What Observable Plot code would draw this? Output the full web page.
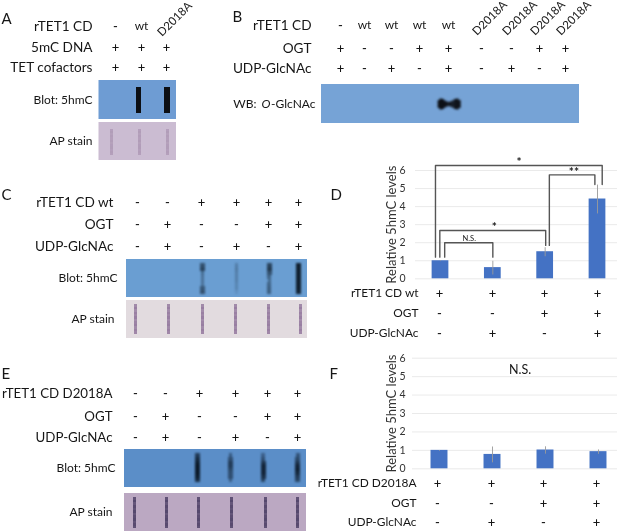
<!DOCTYPE html>
<html><head><meta charset="utf-8">
<script src="https://cdn.jsdelivr.net/npm/d3@7"></script>
<script src="https://cdn.jsdelivr.net/npm/@observablehq/plot@0.6"></script>
<style>
html,body{margin:0;padding:0;background:#fff}
#fig{position:relative;width:617px;height:531px;overflow:hidden;background:#fff}
#fig svg{position:absolute;filter:blur(0.3px)}
</style></head><body><div id="fig"></div>
<script>
// ---------- DATA ----------
const rowsA = ["rTET1 CD", "5mC DNA", "TET cofactors"];
const valsA = [["-", "wt", "D2018A"], ["+", "+", "+"], ["+", "+", "+"]];
const slotsA = [0.885, 2.03];
const signalA = [[1, 1, 1, 1, 1, 1, 1, 1], [1, 1, 1, 1, 1, 1, 1, 1]];
const apSlotsA = [-0.24, 0.92, 2.08];
const apTexture = [.88, 1, .85, .97, .9, 1, .86, .95, 1, .88, .97, .9];

const rowsB = ["rTET1 CD", "OGT", "UDP-GlcNAc"];
const valsB = [
  ["-", "wt", "wt", "wt", "wt", "D2018A", "D2018A", "D2018A", "D2018A"],
  ["+", "-", "-", "+", "+", "-", "-", "+", "+"],
  ["+", "-", "+", "-", "+", "-", "+", "-", "+"]
];
const bandOffsetB = [-0.33, -0.27, -0.2, -0.12, -0.04, 0.04, 0.12, 0.2, 0.27, 0.33];
const bandThickB = [0.1, 0.14, 0.13, 0.09, 0.06, 0.06, 0.09, 0.13, 0.14, 0.1];

const rowsC = ["rTET1 CD wt", "OGT", "UDP-GlcNAc"];
const valsC = [["-", "-", "+", "+", "+", "+"], ["-", "+", "-", "-", "+", "+"], ["-", "+", "-", "+", "-", "+"]];
const slotsC = [2.03, 3, 4.03, 5];
const signalC = [
  [.6, .7, .4, .35, .35, .35, .55, .6],
  [.25, .3, .25, .25, .25, .2, .2, .1],
  [.7, .8, .6, .45, .4, .45, .5, .5],
  [1, 1, 1, 1, 1, 1, 1, .95]
];
const apSlotsC = [-0.18, 1.03, 2.03, 2.97, 4, 5.2];

const rowsE = ["rTET1 CD D2018A", "OGT", "UDP-GlcNAc"];
const valsE = valsC;
const slotsE = [1.94, 2.86, 3.87, 5];
const signalE = [
  [.7, .85, .95, 1, 1, 1, .95, .8],
  [.45, .55, .7, .7, .6, .55, .55, .4],
  [.4, .55, .75, .9, .9, .9, .8, .6],
  [.5, .6, .75, .9, .95, .85, .7, .6]
];
const apSlotsE = [-0.09, 1.03, 1.97, 2.89, 3.94, 5];

const valuesD = [1.0, 0.62, 1.5, 4.42];
const errorsD = [0.02, 0.38, 0.25, 0.8];
const rowsD = ["rTET1 CD wt", "OGT", "UDP-GlcNAc"];
const valsD = [["+", "+", "+", "+"], ["-", "-", "+", "+"], ["-", "+", "-", "+"]];
const bracketsD = [
  [[-0.096, 1.2], [-0.096, 6.28], [3.09, 6.28], [3.09, 5.22]],
  [[2.08, 1.85], [2.08, 5.76], [2.95, 5.76], [2.95, 5.22]],
  [[-0.013, 1.2], [-0.013, 2.68], [2.01, 2.68], [2.01, 1.85]],
  [[0.08, 1.2], [0.08, 2.0], [1, 2.0], [1, 1.2]]
];
const bracketLabelsD = [
  {x: 1.5, y: 6.47, t: "*"}, {x: 2.55, y: 5.92, t: "**"}, {x: 1.03, y: 2.85, t: "*"}
];
const nsLabelD = [{x: 0.55, y: 2.2, t: "N.S."}];

const valuesF = [1.0, 0.78, 1.02, 0.93];
const errorsF = [0.02, 0.43, 0.2, 0.12];
const rowsF = ["rTET1 CD D2018A", "OGT", "UDP-GlcNAc"];
const valsF = valsD;
const ticks = [0, 1, 2, 3, 4, 5, 6];

// ---------- HELPERS ----------
const FONT = "Lato, 'Open Sans', sans-serif";
const INK = "#161616";
const fig = document.getElementById("fig");
function place(svg, left, top) { svg.style.left = left + "px"; svg.style.top = top + "px"; fig.appendChild(svg); }
const soft = (b) => ({render(i, s, v, d, c, next) { const g = next(i, s, v, d, c); g.style.filter = `blur(${b}px)`; return g; }});

function panel(box, xMap, yMap, marks) {
  const [left, top, w, h] = box;
  place(Plot.plot({
    width: w, height: h, margin: 0,
    style: {fontFamily: FONT, background: "transparent", color: INK},
    x: {axis: null, type: "linear", domain: xMap[0], range: xMap[1].map(d => d - left)},
    y: {axis: null, type: "linear", domain: yMap[0], range: yMap[1].map(d => d - top)},
    marks
  }), left, top);
}
const flat = (vals) => vals.flatMap((r, i) => r.map((v, j) => ({row: i, lane: j, v})));

function tableMarks(rows, vals, size, fs) {
  const all = flat(vals);
  return [
    Plot.text(rows, {x: () => -2, y: (d, i) => i, text: d => d, textAnchor: "end", fontSize: size, fill: INK}),
    Plot.text(all.filter(d => d.v === "+" || d.v === "-"), {x: "lane", y: "row", text: "v", fontSize: fs, fontWeight: 500, fill: INK}),
    Plot.text(all.filter(d => d.v === "wt"), {x: "lane", y: "row", text: "v", fontSize: 12, fill: INK}),
    Plot.text(all.filter(d => d.v === "D2018A"), {x: "lane", y: "row", text: "v", fontSize: 11.5, rotate: -45, textAnchor: "start", dx: -7, dy: 8, fill: INK})
  ];
}
function letter(t, dx, dy) {
  return Plot.text([t], {frameAnchor: "top-left", text: d => d, dx, dy, fontSize: 15, textAnchor: "start", fill: INK});
}
function blotRect(row, fill, n) {
  return Plot.rect([row], {x1: () => -1, x2: () => n, y1: d => d - 0.5, y2: d => d + 0.5, fill});
}
function slotMarks(slots, matrix, row, s0, s1, colour, base, gain, blur, alpha) {
  const seg = matrix.flatMap((m, i) => m.map((v, k) => ({lane: slots[i], v, k, n: m.length})));
  return Plot.link(seg, {
    x1: "lane", x2: "lane",
    y1: d => row - 0.5 + s0 + (s1 - s0) * d.k / d.n,
    y2: d => row - 0.5 + s0 + (s1 - s0) * (d.k + 1) / d.n,
    stroke: colour, strokeWidth: d => base + gain * d.v, strokeOpacity: d => alpha * d.v,
    strokeLinecap: "butt", shapeRendering: "crispEdges", ...soft(blur)
  });
}
const apSignal = (slots) => slots.map(() => apTexture);

function chart(box, marginLeft, pad, xRange, yRange, values, errors, extra) {
  const [left, top, w, h] = box;
  const data = values.map((v, i) => ({i, v, e: errors[i]}));
  place(Plot.plot({
    width: w, height: h, marginLeft, marginRight: 0, marginTop: yRange[1] - top, marginBottom: top + h - yRange[0],
    style: {fontFamily: FONT, background: "transparent", color: INK},
    x: {axis: null, type: "linear", domain: [0, 3], range: xRange.map(d => d - left)},
    y: {domain: [0, 6], range: yRange.map(d => d - top)},
    marks: [
      Plot.gridY(ticks, {stroke: "#e4e4e4", strokeOpacity: 1, strokeWidth: 0.8}),
      Plot.axisY({ticks, tickSize: 0, tickPadding: pad, fontSize: 10.5, label: null, fill: "#333", tickFormat: d => d}),
      Plot.text(["Relative 5hmC levels"], {frameAnchor: "left", textAnchor: "middle", rotate: -90, dx: 391 - left - marginLeft, text: d => d, fontSize: 13, fill: "#333"}),
      Plot.rect(data, {x1: d => d.i - 0.16, x2: d => d.i + 0.16, y1: () => 0, y2: "v", fill: "#4472c4"}),
      Plot.link(data, {x1: "i", x2: "i", y1: d => d.v - d.e, y2: d => d.v + d.e, stroke: "#9a9a9a", strokeWidth: 0.9}),
      ...extra
    ]
  }), left, top);
}

// ---------- PANEL A ----------
const xA = [[-2, -1, 0, 1, 2, 3], [92, 98.5, 115, 141, 166, 176]];
const yA = [[0, 1, 2, 2.5, 3.5, 3.6, 4.6], [26, 47, 67, 80, 119, 122, 160]];
panel([0, 0, 205, 170], xA, yA, [
  letter("A", 1, 13),
  blotRect(3, "#6e9cd3", 3), blotRect(4.1, "#cbbcd2", 3),
  slotMarks(slotsA, signalA, 3, 0.16, 0.83, "#0c0f14", 2.5, 3, 0.6, 1),
  slotMarks(apSlotsA, apSignal(apSlotsA), 4.1, 0.16, 0.86, "#8a6d92", 3, 0, 0.7, 0.4),
  ...tableMarks(rowsA, valsA, 13.6, 13),
  Plot.text(["Blot: 5hmC"], {x: () => -2, y: () => 3, text: d => d, textAnchor: "end", fontSize: 12, fill: INK}),
  Plot.text(["AP stain"], {x: () => -2, y: () => 4.1, text: d => d, textAnchor: "end", fontSize: 12, fill: INK})
]);

// ---------- PANEL B ----------
const xB = [[-2, -1, 0, 1, 2, 3, 4, 5, 6, 7, 8, 9], [311, 321, 340, 364, 391, 419, 448, 481, 511, 539, 565, 579]];
const yB = [[0, 1, 2, 2.5, 3.5], [25, 48, 68, 84, 123]];
panel([205, 0, 412, 140], xB, yB, [
  letter("B", 27, 11),
  blotRect(3, "#76a3d6", 9),
  Plot.link(bandOffsetB, {
    x1: d => 4 + d, x2: d => 4 + d,
    y1: (d, i) => 3 - bandThickB[i], y2: (d, i) => 3 + bandThickB[i],
    stroke: "#0d1016", strokeWidth: 2.6, ...soft(0.8)
  }),
  ...tableMarks(rowsB, valsB, 13.6, 13),
  Plot.text(["WB: "], {x: () => -2, y: () => 3, dx: -52, text: d => d, textAnchor: "end", fontSize: 12, fill: INK}),
  Plot.text(["O"], {x: () => -2, y: () => 3, dx: -41, text: d => d, textAnchor: "end", fontSize: 12, fontStyle: "italic", fill: INK}),
  Plot.text(["-GlcNAc"], {x: () => -2, y: () => 3, dx: 4, text: d => d, textAnchor: "end", fontSize: 12, fill: INK})
]);

// ---------- PANEL C ----------
const xC = [[-2, -1, 0, 1, 2, 3, 4, 5, 6], [113, 126, 137, 167, 201, 236, 268, 298, 307]];
const yC = [[0, 1, 2, 2.5, 3.5, 3.6, 4.6], [202, 224, 246, 259, 297, 300, 338]];
panel([0, 170, 320, 175], xC, yC, [
  letter("C", 1, 19),
  blotRect(3, "#6a9ed2", 6), blotRect(4.1, "#e2dbdf", 6),
  slotMarks(slotsC, signalC, 3, 0.1, 0.9, "#10202f", 2.2, 3.6, 0.8, 1),
  slotMarks(apSlotsC, apSignal(apSlotsC), 4.1, 0.1, 0.87, "#7f5f8d", 3.2, 0, 0.6, 0.75),
  ...tableMarks(rowsC, valsC, 13.6, 13),
  Plot.text(["Blot: 5hmC"], {x: () => -2, y: () => 3, dx: 4, text: d => d, textAnchor: "end", fontSize: 12, fill: INK}),
  Plot.text(["AP stain"], {x: () => -2, y: () => 4.1, dx: 1, text: d => d, textAnchor: "end", fontSize: 12, fill: INK})
]);

// ---------- PANEL E ----------
const xE = [[-2, -1, 0, 1, 2, 3, 4, 5, 6], [112, 124, 135, 165, 199, 235, 267, 297, 306]];
const yE = [[0, 1, 2, 2.5, 3.5, 3.6, 4.6], [393, 416, 437, 449, 487, 493, 531]];
panel([0, 345, 312, 186], xE, yE, [
  letter("E", 1, 23),
  blotRect(3, "#5b8ec8", 6), blotRect(4.1, "#bba8c2", 6),
  slotMarks(slotsE, signalE, 3, 0.1, 0.86, "#0c1a2a", 2.5, 3, 0.8, 1),
  slotMarks(apSlotsE, apSignal(apSlotsE), 4.1, 0.1, 0.92, "#3c2f58", 3.4, 0, 0.6, 0.8),
  ...tableMarks(rowsE, valsE, 13.3, 13),
  Plot.text(["Blot: 5hmC"], {x: () => -2, y: () => 3, dx: 3, text: d => d, textAnchor: "end", fontSize: 12, fill: INK}),
  Plot.text(["AP stain"], {x: () => -2, y: () => 4.1, text: d => d, textAnchor: "end", fontSize: 12, fill: INK})
]);

// ---------- PANEL D ----------
const bracketPts = bracketsD.flatMap((b, k) => b.map(([x, y]) => ({x, y, k})));
chart([320, 145, 297, 142], 95, 10, [440, 597], [278.3, 170], valuesD, errorsD, [
  Plot.line(bracketPts, {x: "x", y: "y", z: "k", stroke: "#555", strokeWidth: 1.4, curve: "linear"}),
  Plot.text(bracketLabelsD, {x: "x", y: "y", text: "t", fontSize: 12, fontWeight: 700, fill: INK}),
  Plot.text(nsLabelD, {x: "x", y: "y", text: "t", fontSize: 7.5, fill: INK}),
  letter("D", -85, 19)
]);
panel([320, 287, 297, 53],
  [[-2, 0, 1, 2, 3], [418, 439, 492, 544, 597]],
  [[0, 1, 2], [293, 313, 333]],
  tableMarks(rowsD, valsD, 11.9, 13));

// ---------- PANEL F ----------
chart([320, 340, 297, 135], 92, 7, [439, 598], [468.3, 357.7], valuesF, errorsF, [
  Plot.text(["N.S."], {x: () => 1.52, y: () => 5.38, text: d => d, fontSize: 12.5, fill: INK}),
  letter("F", -83, 10)
]);
panel([312, 475, 305, 56],
  [[-2, 0, 1, 2, 3], [416, 437, 491, 543, 596]],
  [[0, 1, 2], [483, 503, 522]],
  tableMarks(rowsF, valsF, 11.9, 13));
</script></body></html>
